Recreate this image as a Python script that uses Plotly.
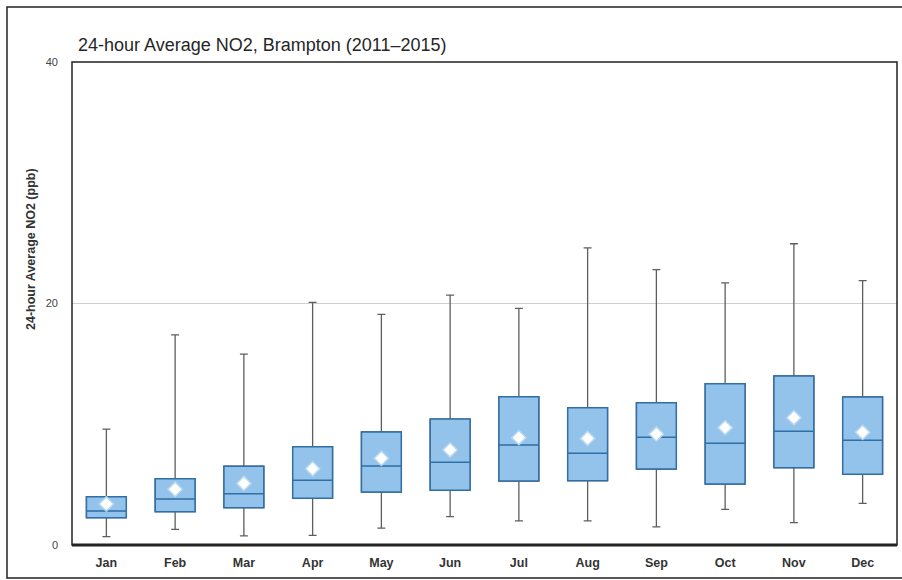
import plotly.graph_objects as go

# Monthly distribution of 24-hour average NO2 at Brampton, 2011-2015 (ppb)
months = ["Jan", "Feb", "Mar", "Apr", "May", "Jun",
          "Jul", "Aug", "Sep", "Oct", "Nov", "Dec"]
whisker_low = [0.7, 1.3, 0.75, 0.8, 1.4, 2.35, 2.0, 2.0, 1.5, 2.95, 1.85, 3.45]
q1 = [2.26, 2.76, 3.09, 3.87, 4.39, 4.53, 5.3, 5.33, 6.29, 5.05, 6.4, 5.85]
median = [2.82, 3.81, 4.25, 5.36, 6.54, 6.85, 8.28, 7.59, 8.92, 8.42, 9.41, 8.67]
q3 = [4.0, 5.49, 6.52, 8.14, 9.36, 10.43, 12.28, 11.37, 11.79, 13.36, 14.0, 12.26]
whisker_high = [9.6, 17.4, 15.8, 20.1, 19.1, 20.7, 19.6, 24.6, 22.8, 21.7, 24.95, 21.9]
mean = [3.4, 4.61, 5.1, 6.32, 7.18, 7.87, 8.89, 8.83, 9.19, 9.72, 10.54, 9.33]

y_ticks = [0, 20, 40]

BOX_FILL = "#93c2ea"
BOX_EDGE = "#2f6ea6"
WHISKER = "#5e5e5e"

fig = go.Figure()

# Whiskers (gray), drawn underneath the boxes
fig.add_trace(go.Box(
    x=months, q1=q1, median=median, q3=q3,
    lowerfence=whisker_low, upperfence=whisker_high,
    fillcolor="rgba(0,0,0,0)", line=dict(color=WHISKER, width=1.3),
    whiskerwidth=0.2, width=0.58, boxpoints=False, showlegend=False,
    hoverinfo="skip",
))

# Interquartile boxes with median line
fig.add_trace(go.Box(
    x=months, q1=q1, median=median, q3=q3,
    lowerfence=q1, upperfence=q3,
    fillcolor=BOX_FILL, line=dict(color=BOX_EDGE, width=1.5),
    whiskerwidth=0, width=0.58, boxpoints=False, showlegend=False,
))

# Means as white diamonds
fig.add_trace(go.Scatter(
    x=months, y=mean, mode="markers", showlegend=False,
    marker=dict(symbol="diamond", size=11, color="white",
                line=dict(color="#b9d8f2", width=1.5)),
))

L, R, T, B = 72, 5, 62, 35
W, H = 902, 580
pw, ph = W - L - R, H - T - B

def px_x(x):
    return (x - L) / pw

def px_y(y):
    return (H - B - y) / ph

fig.update_layout(
    width=W, height=H,
    margin=dict(l=L, r=R, t=T, b=B),
    paper_bgcolor="white", plot_bgcolor="white",
    boxmode="overlay",
    font=dict(family="Liberation Sans, Arial, sans-serif", color="#333"),
    title=dict(
        text="24-hour Average NO2, Brampton (2011\u20132015)",
        x=78 / W, xref="container", xanchor="left",
        y=1 - 45 / H, yref="container", yanchor="middle",
        font=dict(size=18, color="#262626"),
    ),
    xaxis=dict(
        type="category", categoryorder="array", categoryarray=months,
        range=[-0.5, 11.5], showgrid=False, zeroline=False,
        showline=False, ticks="",
        tickfont=dict(size=12.5, color="#333", weight="bold"),
        ticklabelstandoff=8,
    ),
    yaxis=dict(
        range=[0, 40], tickvals=y_ticks, ticktext=[str(v) for v in y_ticks],
        showgrid=True, gridcolor="#cfcfcf", gridwidth=1,
        zeroline=False, showline=False, ticks="",
        tickfont=dict(size=11, color="#444"),
        ticklabelstandoff=13,
    ),
    annotations=[dict(
        text="24-hour Average NO2 (ppb)", textangle=-90,
        x=px_x(31), y=px_y(249), xref="paper", yref="paper",
        xanchor="center", yanchor="middle",
        showarrow=False, font=dict(size=12.5, color="#333", weight="bold"),
    )],
    shapes=[
        # outer figure frame
        dict(type="rect", xref="paper", yref="paper",
             x0=px_x(7), x1=px_x(910), y0=px_y(578), y1=px_y(7),
             line=dict(color="#222", width=1.5), layer="below"),
        # plot frame
        dict(type="rect", xref="paper", yref="paper",
             x0=0, x1=1, y0=0, y1=1,
             line=dict(color="#222", width=1.5), layer="above"),
        # heavier base line
        dict(type="line", xref="paper", yref="paper",
             x0=0, x1=1, y0=0, y1=0,
             line=dict(color="#222", width=3), layer="above"),
    ],
)

fig.write_html("out.html")
